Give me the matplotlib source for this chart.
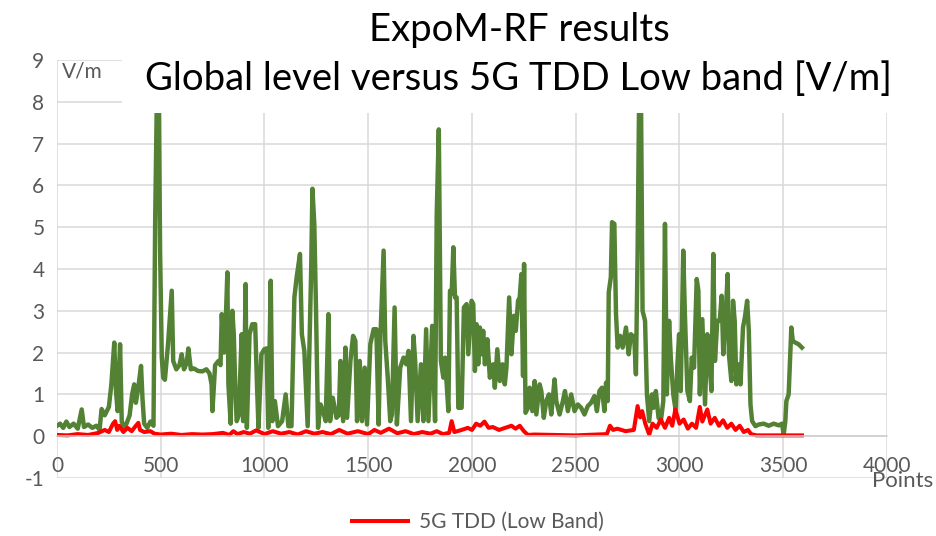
import matplotlib
matplotlib.use('Agg')
import matplotlib.pyplot as plt
from matplotlib.patches import Rectangle

# Global level (green)
global_x = [0, 15, 30, 45, 60, 80, 100, 119, 130, 150, 170, 190, 205, 215, 230, 250,
            262, 276, 284, 292, 304, 312, 325, 335, 350, 362, 372, 380, 390, 405, 412,
            420, 435, 450, 465, 473, 482, 490, 497, 505, 512, 520, 535, 545, 553, 560,
            575, 590, 601, 612, 625, 633, 645, 660, 680, 700, 720, 735, 745, 749, 755,
            762, 778, 788, 794, 805, 815, 821, 826, 837, 845, 852, 860, 866, 876, 883,
            890, 897, 903, 909, 915, 928, 941, 955, 964, 971, 985, 999, 1010, 1018,
            1030, 1038, 1050, 1065, 1085, 1102, 1115, 1130, 1144, 1155, 1171, 1180,
            1192, 1208, 1225, 1231, 1240, 1248, 1258, 1270, 1282, 1295, 1308, 1316,
            1329, 1347, 1358, 1366, 1379, 1390, 1398, 1414, 1427, 1438, 1446, 1459,
            1470, 1483, 1494, 1510, 1526, 1539, 1550, 1558, 1574, 1582, 1594, 1606,
            1614, 1627, 1638, 1654, 1670, 1683, 1694, 1706, 1718, 1726, 1738, 1754,
            1766, 1779, 1790, 1808, 1822, 1830, 1840, 1850, 1862, 1870, 1878, 1886,
            1894, 1902, 1910, 1918, 1926, 1934, 1950, 1961, 1974, 1982, 1998, 2006,
            2014, 2022, 2030, 2038, 2046, 2054, 2062, 2074, 2086, 2102, 2110, 2122,
            2134, 2147, 2158, 2166, 2179, 2190, 2202, 2211, 2222, 2230, 2238, 2246,
            2251, 2258, 2270, 2278, 2291, 2302, 2310, 2326, 2334, 2346, 2358, 2371,
            2382, 2398, 2406, 2422, 2438, 2448, 2462, 2478, 2494, 2510, 2526, 2542,
            2558, 2574, 2590, 2602, 2614, 2626, 2638, 2646, 2654, 2659, 2669, 2675,
            2686, 2694, 2702, 2714, 2726, 2742, 2755, 2766, 2782, 2790, 2798, 2806,
            2814, 2822, 2834, 2843, 2854, 2867, 2875, 2886, 2899, 2910, 2922, 2930,
            2939, 2950, 2958, 2970, 2982, 2990, 2998, 3006, 3018, 3026, 3038, 3050,
            3059, 3070, 3083, 3091, 3098, 3110, 3123, 3134, 3142, 3154, 3163, 3171,
            3182, 3194, 3203, 3211, 3222, 3232, 3238, 3250, 3258, 3266, 3274, 3286,
            3294, 3306, 3315, 3326, 3334, 3342, 3350, 3366, 3382, 3406, 3430, 3454,
            3478, 3494, 3502, 3510, 3515, 3526, 3534, 3539, 3546, 3558, 3574, 3590]
global_y = [0.25, 0.3, 0.2, 0.35, 0.22, 0.3, 0.18, 0.64, 0.22, 0.28, 0.2, 0.25, 0.15, 0.65, 0.5, 0.7,
            1.24, 2.24, 1.1, 0.6, 2.2, 0.35, 0.2, 0.3, 0.5, 1.0, 1.24, 0.8, 1.1, 1.68, 0.9,
            0.3, 0.2, 0.35, 0.25, 5.1, 8.4, 8.4, 4.36, 1.88, 1.4, 1.35, 2.2, 2.92, 3.48, 1.8,
            1.6, 1.7, 1.96, 1.6, 1.75, 2.1, 1.6, 1.62, 1.56, 1.55, 1.6, 1.5, 1.24, 0.6, 1.1,
            1.7, 1.8, 1.7, 2.92, 2.0, 3.0, 3.92, 1.24, 0.3, 3.0, 2.44, 1.0, 0.36, 0.5, 1.5,
            2.44, 0.36, 1.5, 3.64, 0.2, 2.44, 2.68, 2.68, 1.2, 0.2, 1.96, 2.08, 2.1, 0.2,
            3.72, 0.36, 0.84, 0.24, 0.36, 1.0, 0.24, 0.24, 3.32, 3.8, 4.36, 2.44,
            2.04, 0.24, 4.0, 5.92, 5.08, 3.08, 0.2, 0.76, 0.6, 0.36, 2.92, 0.36,
            0.92, 0.44, 0.5, 1.8, 0.36, 2.12, 0.44, 1.8, 2.4, 2.28, 0.36, 1.8,
            0.36, 1.64, 0.28, 2.2, 2.56, 2.56, 0.28, 2.28, 4.44, 2.28, 1.4, 0.36,
            0.52, 3.08, 0.28, 1.64, 1.88, 1.72, 2.04, 0.36, 2.4, 1.8, 0.36, 1.72,
            0.36, 2.56, 0.36, 2.64, 0.36, 5.32, 7.34, 1.8, 1.4, 1.88, 1.24, 0.6,
            3.48, 3.4, 4.52, 3.32, 3.32, 0.68, 0.68, 3.08, 3.16, 1.96, 3.24, 3.16,
            1.56, 2.68, 1.72, 2.6, 1.96, 2.52, 1.72, 2.32, 1.4, 1.72, 1.16, 2.08,
            1.32, 1.72, 1.24, 1.64, 3.32, 1.96, 2.88, 2.52, 3.24, 3.32, 3.88, 1.44,
            4.12, 0.56, 0.68, 1.16, 0.6, 1.32, 0.52, 1.24, 1.08, 0.44, 0.84, 1.0,
            0.52, 1.36, 0.84, 0.52, 0.84, 1.08, 0.6, 1.0, 0.6, 0.76, 0.68, 0.52,
            0.72, 0.8, 0.96, 0.6, 1.08, 1.16, 0.6, 1.28, 0.84, 3.44, 3.8, 5.12,
            5.08, 2.92, 2.12, 2.4, 2.12, 2.6, 1.96, 2.44, 2.36, 1.48, 4.36, 8.4,
            8.4, 3.0, 2.76, 1.0, 0.36, 1.0, 0.68, 1.08, 0.44, 0.36, 0.84, 5.08,
            1.0, 2.76, 1.88, 1.0, 0.6, 1.72, 2.44, 1.08, 4.44, 2.92, 1.08, 0.84,
            1.88, 1.64, 3.76, 3.48, 1.0, 2.8, 0.76, 2.44, 1.96, 1.08, 4.36, 1.8,
            2.76, 2.76, 3.36, 1.96, 2.84, 3.88, 1.96, 1.32, 3.24, 2.76, 1.24, 1.72,
            1.24, 2.6, 2.84, 3.24, 2.52, 0.76, 0.36, 0.24, 0.28, 0.3, 0.25, 0.3,
            0.26, 0.3, 0.04, 0.36, 0.84, 1.0, 1.96, 2.6, 2.28, 2.24, 2.2, 2.12]

# 5G TDD low band (red)
tdd_x = [0, 50, 100, 150, 200, 230, 250, 270, 280, 290, 300, 320, 340, 360, 380, 392,
         400, 420, 450, 470, 500, 550, 600, 650, 700, 750, 800, 830, 850, 870, 900,
         930, 960, 1000, 1040, 1080, 1120, 1160, 1200, 1240, 1280, 1320, 1360, 1400,
         1450, 1500, 1530, 1560, 1600, 1640, 1680, 1720, 1760, 1800, 1830, 1860, 1890,
         1902, 1915, 1950, 1980, 2000, 2020, 2040, 2060, 2080, 2100, 2130, 2160, 2190,
         2210, 2230, 2250, 2270, 2300, 2400, 2500, 2600, 2650, 2665, 2680, 2700, 2740,
         2780, 2798, 2810, 2820, 2835, 2854, 2870, 2890, 2910, 2930, 2950, 2965, 2980,
         3000, 3020, 3040, 3060, 3080, 3098, 3110, 3134, 3150, 3170, 3190, 3210, 3230,
         3250, 3270, 3290, 3310, 3330, 3345, 3370, 3450, 3520, 3590]
tdd_y = [0.03, 0.02, 0.05, 0.03, 0.08, 0.15, 0.1, 0.3, 0.36, 0.15, 0.25, 0.1, 0.2, 0.12, 0.25, 0.32,
         0.15, 0.1, 0.12, 0.06, 0.04, 0.06, 0.03, 0.05, 0.04, 0.05, 0.08, 0.03, 0.12, 0.05, 0.1,
         0.06, 0.14, 0.05, 0.12, 0.06, 0.1, 0.04, 0.12, 0.06, 0.1, 0.05, 0.15, 0.06,
         0.12, 0.05, 0.15, 0.08, 0.18, 0.07, 0.12, 0.05, 0.1, 0.06, 0.12, 0.05, 0.08,
         0.36, 0.1, 0.15, 0.2, 0.15, 0.3, 0.25, 0.35, 0.2, 0.22, 0.15, 0.2, 0.25,
         0.18, 0.25, 0.12, 0.03, 0.04, 0.03, 0.02, 0.04, 0.05, 0.25, 0.15, 0.18, 0.12,
         0.15, 0.72, 0.45, 0.6, 0.3, 0.04, 0.3, 0.2, 0.4, 0.2, 0.44, 0.25, 0.64,
         0.3, 0.4, 0.18, 0.3, 0.2, 0.7, 0.35, 0.64, 0.3, 0.44, 0.25, 0.38, 0.2,
         0.3, 0.15, 0.25, 0.1, 0.15, 0.05, 0.02, 0.02, 0.02, 0.02]

x_ticks = list(range(0, 4001, 500))
y_ticks = list(range(-1, 10))

plt.rcParams['font.family'] = ['Lato', 'DejaVu Sans']
plt.rcParams['axes.unicode_minus'] = False
gray = '#595959'

fig = plt.figure(figsize=(9.37, 5.36), dpi=100)
ax = fig.add_axes([57 / 937, 1 - 478 / 536, 830 / 937, 418 / 536])

ax.plot(global_x, global_y, color='#548235', lw=3.2, solid_joinstyle='round',
        label='Global level')
red_line, = ax.plot(tdd_x, tdd_y, color='#FF0000', lw=2.9, solid_joinstyle='round',
                    label='5G TDD (Low Band)')

ax.set_xlim(0, 4000)
ax.set_ylim(-1, 9)
ax.set_xticks(x_ticks)
ax.set_yticks(y_ticks)
ax.grid(True, color='#D9D9D9', lw=1.1)
ax.set_axisbelow(True)
for s in ['top', 'right', 'left']:
    ax.spines[s].set_visible(False)
ax.spines['bottom'].set_position(('data', 0))
ax.spines['bottom'].set_color('#CFCFCF')
ax.spines['bottom'].set_linewidth(1.1)
ax.tick_params(axis='both', length=0, labelsize=15, labelcolor=gray)
ax.tick_params(axis='x', pad=14)
ax.tick_params(axis='y', pad=9)

# white title box hiding the top of the plot, like the Excel overlay title
fig.add_artist(Rectangle((122 / 937, 1 - 113 / 536), 1, 113 / 536,
                         transform=fig.transFigure, facecolor='white',
                         edgecolor='none', zorder=5))
fig.text(519 / 937, 1 - 30 / 536, 'ExpoM-RF results', ha='center', va='center',
         fontsize=27.5, color='black', zorder=6)
fig.text(519 / 937, 1 - 79 / 536, 'Global level versus 5G TDD Low band [V/m]',
         ha='center', va='center', fontsize=27.5, color='black', zorder=6)

fig.text(62 / 937, 1 - 71 / 536, 'V/m', ha='left', va='center', fontsize=15, color=gray)
fig.text(933 / 937, 1 - 481 / 536, 'Points', ha='right', va='center', fontsize=16,
         color=gray)

fig.legend(handles=[red_line], loc='center', bbox_to_anchor=(478 / 937, 1 - 522 / 536),
           frameon=False, fontsize=15, labelcolor=gray, handlelength=2.7,
           handletextpad=0.5)

fig.savefig('out.png', dpi=100)
